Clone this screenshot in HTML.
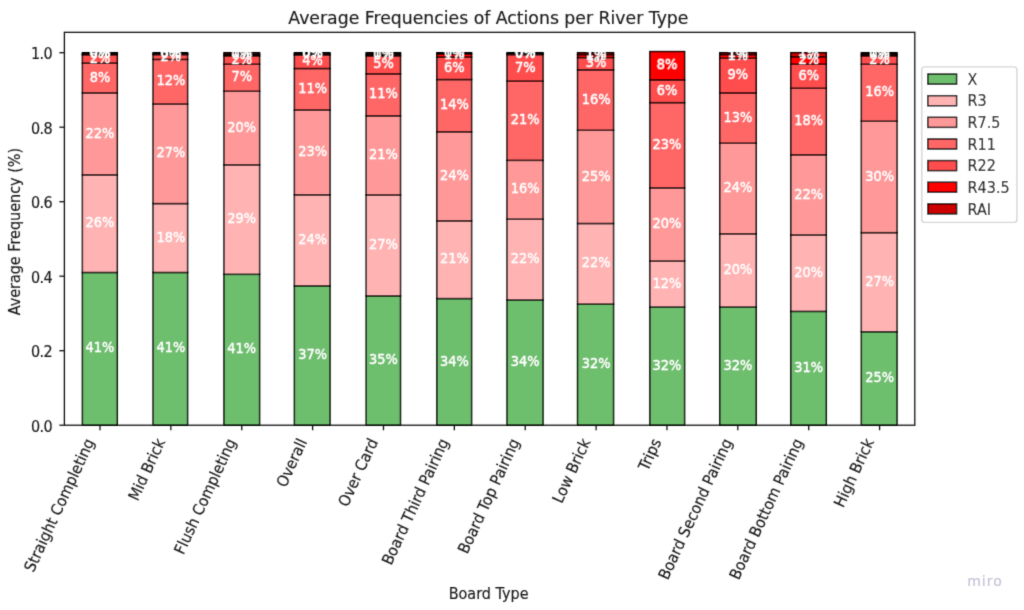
<!DOCTYPE html><html><head><meta charset="utf-8"><title>Average Frequencies of Actions per River Type</title>
<style>html,body{margin:0;padding:0;background:#fff;}svg{display:block;will-change:transform;}text{font-family:"DejaVu Sans","Liberation Sans",sans-serif;}</style></head><body>
<svg width="1024" height="610" viewBox="0 0 1024 610">
<rect width="1024" height="610" fill="#fff"/>
<defs><filter id="soft" filterUnits="userSpaceOnUse" x="0" y="0" width="1024" height="610"><feConvolveMatrix order="3" kernelMatrix="1 6 1 6 36 6 1 6 1" divisor="64" edgeMode="duplicate" preserveAlpha="false"/></filter></defs><g filter="url(#soft)">
<rect x="82.40" y="272.48" width="34.90" height="152.72" fill="#6dbe6d" stroke="#000" stroke-width="1.45"/>
<rect x="82.40" y="174.88" width="34.90" height="97.60" fill="#ffb3b3" stroke="#000" stroke-width="1.45"/>
<rect x="82.40" y="92.93" width="34.90" height="81.95" fill="#ff9999" stroke="#000" stroke-width="1.45"/>
<rect x="82.40" y="63.13" width="34.90" height="29.80" fill="#ff6666" stroke="#000" stroke-width="1.45"/>
<rect x="82.40" y="54.71" width="34.90" height="8.42" fill="#ff4d4d" stroke="#000" stroke-width="1.45"/>
<rect x="82.40" y="54.19" width="34.90" height="0.52" fill="#ff0000" stroke="#000" stroke-width="1.45"/>
<rect x="82.40" y="52.70" width="34.90" height="1.49" fill="#cc0000" stroke="#000" stroke-width="1.45"/>
<rect x="153.10" y="272.48" width="34.50" height="152.72" fill="#6dbe6d" stroke="#000" stroke-width="1.45"/>
<rect x="153.10" y="203.56" width="34.50" height="68.91" fill="#ffb3b3" stroke="#000" stroke-width="1.45"/>
<rect x="153.10" y="104.11" width="34.50" height="99.46" fill="#ff9999" stroke="#000" stroke-width="1.45"/>
<rect x="153.10" y="59.40" width="34.50" height="44.70" fill="#ff6666" stroke="#000" stroke-width="1.45"/>
<rect x="153.10" y="54.56" width="34.50" height="4.84" fill="#ff4d4d" stroke="#000" stroke-width="1.45"/>
<rect x="153.10" y="53.82" width="34.50" height="0.75" fill="#ff0000" stroke="#000" stroke-width="1.45"/>
<rect x="153.10" y="52.70" width="34.50" height="1.12" fill="#cc0000" stroke="#000" stroke-width="1.45"/>
<rect x="224.00" y="274.34" width="35.60" height="150.86" fill="#6dbe6d" stroke="#000" stroke-width="1.45"/>
<rect x="224.00" y="164.82" width="35.60" height="109.51" fill="#ffb3b3" stroke="#000" stroke-width="1.45"/>
<rect x="224.00" y="91.29" width="35.60" height="73.53" fill="#ff9999" stroke="#000" stroke-width="1.45"/>
<rect x="224.00" y="64.25" width="35.60" height="27.04" fill="#ff6666" stroke="#000" stroke-width="1.45"/>
<rect x="224.00" y="55.87" width="35.60" height="8.38" fill="#ff4d4d" stroke="#000" stroke-width="1.45"/>
<rect x="224.00" y="54.38" width="35.60" height="1.49" fill="#ff0000" stroke="#000" stroke-width="1.45"/>
<rect x="224.00" y="52.70" width="35.60" height="1.68" fill="#cc0000" stroke="#000" stroke-width="1.45"/>
<rect x="294.40" y="285.88" width="35.60" height="139.31" fill="#6dbe6d" stroke="#000" stroke-width="1.45"/>
<rect x="294.40" y="194.81" width="35.60" height="91.08" fill="#ffb3b3" stroke="#000" stroke-width="1.45"/>
<rect x="294.40" y="110.06" width="35.60" height="84.74" fill="#ff9999" stroke="#000" stroke-width="1.45"/>
<rect x="294.40" y="68.49" width="35.60" height="41.57" fill="#ff6666" stroke="#000" stroke-width="1.45"/>
<rect x="294.40" y="54.94" width="35.60" height="13.56" fill="#ff4d4d" stroke="#000" stroke-width="1.45"/>
<rect x="294.40" y="54.19" width="35.60" height="0.75" fill="#ff0000" stroke="#000" stroke-width="1.45"/>
<rect x="294.40" y="52.70" width="35.60" height="1.49" fill="#cc0000" stroke="#000" stroke-width="1.45"/>
<rect x="366.20" y="295.94" width="34.30" height="129.26" fill="#6dbe6d" stroke="#000" stroke-width="1.45"/>
<rect x="366.20" y="195.00" width="34.30" height="100.95" fill="#ffb3b3" stroke="#000" stroke-width="1.45"/>
<rect x="366.20" y="115.80" width="34.30" height="79.19" fill="#ff9999" stroke="#000" stroke-width="1.45"/>
<rect x="366.20" y="73.78" width="34.30" height="42.02" fill="#ff6666" stroke="#000" stroke-width="1.45"/>
<rect x="366.20" y="55.87" width="34.30" height="17.92" fill="#ff4d4d" stroke="#000" stroke-width="1.45"/>
<rect x="366.20" y="54.19" width="34.30" height="1.68" fill="#ff0000" stroke="#000" stroke-width="1.45"/>
<rect x="366.20" y="52.70" width="34.30" height="1.49" fill="#cc0000" stroke="#000" stroke-width="1.45"/>
<rect x="436.90" y="298.55" width="34.70" height="126.65" fill="#6dbe6d" stroke="#000" stroke-width="1.45"/>
<rect x="436.90" y="220.88" width="34.70" height="77.67" fill="#ffb3b3" stroke="#000" stroke-width="1.45"/>
<rect x="436.90" y="131.78" width="34.70" height="89.10" fill="#ff9999" stroke="#000" stroke-width="1.45"/>
<rect x="436.90" y="79.52" width="34.70" height="52.26" fill="#ff6666" stroke="#000" stroke-width="1.45"/>
<rect x="436.90" y="57.17" width="34.70" height="22.35" fill="#ff4d4d" stroke="#000" stroke-width="1.45"/>
<rect x="436.90" y="54.19" width="34.70" height="2.98" fill="#ff0000" stroke="#000" stroke-width="1.45"/>
<rect x="436.90" y="52.70" width="34.70" height="1.49" fill="#cc0000" stroke="#000" stroke-width="1.45"/>
<rect x="507.05" y="300.04" width="35.95" height="125.16" fill="#6dbe6d" stroke="#000" stroke-width="1.45"/>
<rect x="507.05" y="219.21" width="35.95" height="80.83" fill="#ffb3b3" stroke="#000" stroke-width="1.45"/>
<rect x="507.05" y="160.35" width="35.95" height="58.85" fill="#ff9999" stroke="#000" stroke-width="1.45"/>
<rect x="507.05" y="81.20" width="35.95" height="79.16" fill="#ff6666" stroke="#000" stroke-width="1.45"/>
<rect x="507.05" y="54.56" width="35.95" height="26.63" fill="#ff4d4d" stroke="#000" stroke-width="1.45"/>
<rect x="507.05" y="53.82" width="35.95" height="0.75" fill="#ff0000" stroke="#000" stroke-width="1.45"/>
<rect x="507.05" y="52.70" width="35.95" height="1.12" fill="#cc0000" stroke="#000" stroke-width="1.45"/>
<rect x="577.55" y="304.14" width="36.00" height="121.06" fill="#6dbe6d" stroke="#000" stroke-width="1.45"/>
<rect x="577.55" y="223.49" width="36.00" height="80.65" fill="#ffb3b3" stroke="#000" stroke-width="1.45"/>
<rect x="577.55" y="130.29" width="36.00" height="93.20" fill="#ff9999" stroke="#000" stroke-width="1.45"/>
<rect x="577.55" y="69.83" width="36.00" height="60.46" fill="#ff6666" stroke="#000" stroke-width="1.45"/>
<rect x="577.55" y="57.54" width="36.00" height="12.29" fill="#ff4d4d" stroke="#000" stroke-width="1.45"/>
<rect x="577.55" y="54.56" width="36.00" height="2.98" fill="#ff0000" stroke="#000" stroke-width="1.45"/>
<rect x="577.55" y="52.70" width="36.00" height="1.86" fill="#cc0000" stroke="#000" stroke-width="1.45"/>
<rect x="649.90" y="307.12" width="34.70" height="118.08" fill="#6dbe6d" stroke="#000" stroke-width="1.45"/>
<rect x="649.90" y="261.11" width="34.70" height="46.00" fill="#ffb3b3" stroke="#000" stroke-width="1.45"/>
<rect x="649.90" y="187.92" width="34.70" height="73.20" fill="#ff9999" stroke="#000" stroke-width="1.45"/>
<rect x="649.90" y="102.62" width="34.70" height="85.30" fill="#ff6666" stroke="#000" stroke-width="1.45"/>
<rect x="649.90" y="79.89" width="34.70" height="22.72" fill="#ff4d4d" stroke="#000" stroke-width="1.45"/>
<rect x="649.90" y="51.58" width="34.70" height="28.31" fill="#ff0000" stroke="#000" stroke-width="1.45"/>
<rect x="719.80" y="307.12" width="36.40" height="118.08" fill="#6dbe6d" stroke="#000" stroke-width="1.45"/>
<rect x="719.80" y="233.73" width="36.40" height="73.38" fill="#ffb3b3" stroke="#000" stroke-width="1.45"/>
<rect x="719.80" y="143.22" width="36.40" height="90.52" fill="#ff9999" stroke="#000" stroke-width="1.45"/>
<rect x="719.80" y="92.93" width="36.40" height="50.29" fill="#ff6666" stroke="#000" stroke-width="1.45"/>
<rect x="719.80" y="58.29" width="36.40" height="34.64" fill="#ff4d4d" stroke="#000" stroke-width="1.45"/>
<rect x="719.80" y="54.56" width="36.40" height="3.72" fill="#ff0000" stroke="#000" stroke-width="1.45"/>
<rect x="719.80" y="52.70" width="36.40" height="1.86" fill="#cc0000" stroke="#000" stroke-width="1.45"/>
<rect x="790.85" y="311.40" width="35.45" height="113.80" fill="#6dbe6d" stroke="#000" stroke-width="1.45"/>
<rect x="790.85" y="235.00" width="35.45" height="76.40" fill="#ffb3b3" stroke="#000" stroke-width="1.45"/>
<rect x="790.85" y="154.76" width="35.45" height="80.24" fill="#ff9999" stroke="#000" stroke-width="1.45"/>
<rect x="790.85" y="88.27" width="35.45" height="66.49" fill="#ff6666" stroke="#000" stroke-width="1.45"/>
<rect x="790.85" y="64.25" width="35.45" height="24.03" fill="#ff4d4d" stroke="#000" stroke-width="1.45"/>
<rect x="790.85" y="56.80" width="35.45" height="7.45" fill="#ff0000" stroke="#000" stroke-width="1.45"/>
<rect x="790.85" y="52.70" width="35.45" height="4.10" fill="#cc0000" stroke="#000" stroke-width="1.45"/>
<rect x="861.35" y="331.70" width="35.65" height="93.50" fill="#6dbe6d" stroke="#000" stroke-width="1.45"/>
<rect x="861.35" y="232.62" width="35.65" height="99.09" fill="#ffb3b3" stroke="#000" stroke-width="1.45"/>
<rect x="861.35" y="121.24" width="35.65" height="111.38" fill="#ff9999" stroke="#000" stroke-width="1.45"/>
<rect x="861.35" y="64.25" width="35.65" height="56.99" fill="#ff6666" stroke="#000" stroke-width="1.45"/>
<rect x="861.35" y="55.87" width="35.65" height="8.38" fill="#ff4d4d" stroke="#000" stroke-width="1.45"/>
<rect x="861.35" y="54.19" width="35.65" height="1.68" fill="#ff0000" stroke="#000" stroke-width="1.45"/>
<rect x="861.35" y="52.70" width="35.65" height="1.49" fill="#cc0000" stroke="#000" stroke-width="1.45"/>
<text transform="translate(100.00,352.46) scale(1,1.065)" font-size="12.96" fill="#fff" text-anchor="middle" stroke="#fff" stroke-width="0.35">41%</text>
<text transform="translate(100.00,227.30) scale(1,1.065)" font-size="12.96" fill="#fff" text-anchor="middle" stroke="#fff" stroke-width="0.35">26%</text>
<text transform="translate(100.00,137.53) scale(1,1.065)" font-size="12.96" fill="#fff" text-anchor="middle" stroke="#fff" stroke-width="0.35">22%</text>
<text transform="translate(100.00,81.66) scale(1,1.065)" font-size="12.96" fill="#fff" text-anchor="middle" stroke="#fff" stroke-width="0.35">8%</text>
<text transform="translate(100.00,62.55) scale(1,1.065)" font-size="12.96" fill="#fff" text-anchor="middle" stroke="#fff" stroke-width="0.35">2%</text>
<text transform="translate(100.00,58.08) scale(1,1.065)" font-size="12.96" fill="#fff" text-anchor="middle" stroke="#fff" stroke-width="0.35">0%</text>
<text transform="translate(100.00,57.07) scale(1,1.065)" font-size="12.96" fill="#fff" text-anchor="middle" stroke="#fff" stroke-width="0.35">0%</text>
<text transform="translate(170.87,352.46) scale(1,1.065)" font-size="12.96" fill="#fff" text-anchor="middle" stroke="#fff" stroke-width="0.35">41%</text>
<text transform="translate(170.87,241.65) scale(1,1.065)" font-size="12.96" fill="#fff" text-anchor="middle" stroke="#fff" stroke-width="0.35">18%</text>
<text transform="translate(170.87,157.46) scale(1,1.065)" font-size="12.96" fill="#fff" text-anchor="middle" stroke="#fff" stroke-width="0.35">27%</text>
<text transform="translate(170.87,85.38) scale(1,1.065)" font-size="12.96" fill="#fff" text-anchor="middle" stroke="#fff" stroke-width="0.35">12%</text>
<text transform="translate(170.87,60.61) scale(1,1.065)" font-size="12.96" fill="#fff" text-anchor="middle" stroke="#fff" stroke-width="0.35">2%</text>
<text transform="translate(170.87,57.82) scale(1,1.065)" font-size="12.96" fill="#fff" text-anchor="middle" stroke="#fff" stroke-width="0.35">0%</text>
<text transform="translate(170.87,56.89) scale(1,1.065)" font-size="12.96" fill="#fff" text-anchor="middle" stroke="#fff" stroke-width="0.35">0%</text>
<text transform="translate(241.74,353.40) scale(1,1.065)" font-size="12.96" fill="#fff" text-anchor="middle" stroke="#fff" stroke-width="0.35">41%</text>
<text transform="translate(241.74,223.21) scale(1,1.065)" font-size="12.96" fill="#fff" text-anchor="middle" stroke="#fff" stroke-width="0.35">29%</text>
<text transform="translate(241.74,131.68) scale(1,1.065)" font-size="12.96" fill="#fff" text-anchor="middle" stroke="#fff" stroke-width="0.35">20%</text>
<text transform="translate(241.74,81.40) scale(1,1.065)" font-size="12.96" fill="#fff" text-anchor="middle" stroke="#fff" stroke-width="0.35">7%</text>
<text transform="translate(241.74,63.68) scale(1,1.065)" font-size="12.96" fill="#fff" text-anchor="middle" stroke="#fff" stroke-width="0.35">2%</text>
<text transform="translate(241.74,58.75) scale(1,1.065)" font-size="12.96" fill="#fff" text-anchor="middle" stroke="#fff" stroke-width="0.35">0%</text>
<text transform="translate(241.74,57.17) scale(1,1.065)" font-size="12.96" fill="#fff" text-anchor="middle" stroke="#fff" stroke-width="0.35">1%</text>
<text transform="translate(312.61,359.17) scale(1,1.065)" font-size="12.96" fill="#fff" text-anchor="middle" stroke="#fff" stroke-width="0.35">37%</text>
<text transform="translate(312.61,243.97) scale(1,1.065)" font-size="12.96" fill="#fff" text-anchor="middle" stroke="#fff" stroke-width="0.35">24%</text>
<text transform="translate(312.61,156.06) scale(1,1.065)" font-size="12.96" fill="#fff" text-anchor="middle" stroke="#fff" stroke-width="0.35">23%</text>
<text transform="translate(312.61,92.91) scale(1,1.065)" font-size="12.96" fill="#fff" text-anchor="middle" stroke="#fff" stroke-width="0.35">11%</text>
<text transform="translate(312.61,65.34) scale(1,1.065)" font-size="12.96" fill="#fff" text-anchor="middle" stroke="#fff" stroke-width="0.35">4%</text>
<text transform="translate(312.61,58.19) scale(1,1.065)" font-size="12.96" fill="#fff" text-anchor="middle" stroke="#fff" stroke-width="0.35">0%</text>
<text transform="translate(312.61,57.07) scale(1,1.065)" font-size="12.96" fill="#fff" text-anchor="middle" stroke="#fff" stroke-width="0.35">0%</text>
<text transform="translate(383.48,364.20) scale(1,1.065)" font-size="12.96" fill="#fff" text-anchor="middle" stroke="#fff" stroke-width="0.35">35%</text>
<text transform="translate(383.48,249.10) scale(1,1.065)" font-size="12.96" fill="#fff" text-anchor="middle" stroke="#fff" stroke-width="0.35">27%</text>
<text transform="translate(383.48,159.03) scale(1,1.065)" font-size="12.96" fill="#fff" text-anchor="middle" stroke="#fff" stroke-width="0.35">21%</text>
<text transform="translate(383.48,98.42) scale(1,1.065)" font-size="12.96" fill="#fff" text-anchor="middle" stroke="#fff" stroke-width="0.35">11%</text>
<text transform="translate(383.48,68.45) scale(1,1.065)" font-size="12.96" fill="#fff" text-anchor="middle" stroke="#fff" stroke-width="0.35">5%</text>
<text transform="translate(383.48,58.66) scale(1,1.065)" font-size="12.96" fill="#fff" text-anchor="middle" stroke="#fff" stroke-width="0.35">0%</text>
<text transform="translate(383.48,57.07) scale(1,1.065)" font-size="12.96" fill="#fff" text-anchor="middle" stroke="#fff" stroke-width="0.35">1%</text>
<text transform="translate(454.35,365.50) scale(1,1.065)" font-size="12.96" fill="#fff" text-anchor="middle" stroke="#fff" stroke-width="0.35">34%</text>
<text transform="translate(454.35,263.34) scale(1,1.065)" font-size="12.96" fill="#fff" text-anchor="middle" stroke="#fff" stroke-width="0.35">21%</text>
<text transform="translate(454.35,179.96) scale(1,1.065)" font-size="12.96" fill="#fff" text-anchor="middle" stroke="#fff" stroke-width="0.35">24%</text>
<text transform="translate(454.35,109.28) scale(1,1.065)" font-size="12.96" fill="#fff" text-anchor="middle" stroke="#fff" stroke-width="0.35">14%</text>
<text transform="translate(454.35,71.97) scale(1,1.065)" font-size="12.96" fill="#fff" text-anchor="middle" stroke="#fff" stroke-width="0.35">6%</text>
<text transform="translate(454.35,59.31) scale(1,1.065)" font-size="12.96" fill="#fff" text-anchor="middle" stroke="#fff" stroke-width="0.35">1%</text>
<text transform="translate(454.35,57.07) scale(1,1.065)" font-size="12.96" fill="#fff" text-anchor="middle" stroke="#fff" stroke-width="0.35">0%</text>
<text transform="translate(525.22,366.25) scale(1,1.065)" font-size="12.96" fill="#fff" text-anchor="middle" stroke="#fff" stroke-width="0.35">34%</text>
<text transform="translate(525.22,263.25) scale(1,1.065)" font-size="12.96" fill="#fff" text-anchor="middle" stroke="#fff" stroke-width="0.35">22%</text>
<text transform="translate(525.22,193.41) scale(1,1.065)" font-size="12.96" fill="#fff" text-anchor="middle" stroke="#fff" stroke-width="0.35">16%</text>
<text transform="translate(525.22,124.40) scale(1,1.065)" font-size="12.96" fill="#fff" text-anchor="middle" stroke="#fff" stroke-width="0.35">21%</text>
<text transform="translate(525.22,71.51) scale(1,1.065)" font-size="12.96" fill="#fff" text-anchor="middle" stroke="#fff" stroke-width="0.35">7%</text>
<text transform="translate(525.22,57.82) scale(1,1.065)" font-size="12.96" fill="#fff" text-anchor="middle" stroke="#fff" stroke-width="0.35">0%</text>
<text transform="translate(525.22,56.89) scale(1,1.065)" font-size="12.96" fill="#fff" text-anchor="middle" stroke="#fff" stroke-width="0.35">0%</text>
<text transform="translate(596.09,368.30) scale(1,1.065)" font-size="12.96" fill="#fff" text-anchor="middle" stroke="#fff" stroke-width="0.35">32%</text>
<text transform="translate(596.09,267.44) scale(1,1.065)" font-size="12.96" fill="#fff" text-anchor="middle" stroke="#fff" stroke-width="0.35">22%</text>
<text transform="translate(596.09,180.52) scale(1,1.065)" font-size="12.96" fill="#fff" text-anchor="middle" stroke="#fff" stroke-width="0.35">25%</text>
<text transform="translate(596.09,103.69) scale(1,1.065)" font-size="12.96" fill="#fff" text-anchor="middle" stroke="#fff" stroke-width="0.35">16%</text>
<text transform="translate(596.09,67.32) scale(1,1.065)" font-size="12.96" fill="#fff" text-anchor="middle" stroke="#fff" stroke-width="0.35">3%</text>
<text transform="translate(596.09,59.68) scale(1,1.065)" font-size="12.96" fill="#fff" text-anchor="middle" stroke="#fff" stroke-width="0.35">1%</text>
<text transform="translate(596.09,57.26) scale(1,1.065)" font-size="12.96" fill="#fff" text-anchor="middle" stroke="#fff" stroke-width="0.35">1%</text>
<text transform="translate(666.96,369.79) scale(1,1.065)" font-size="12.96" fill="#fff" text-anchor="middle" stroke="#fff" stroke-width="0.35">32%</text>
<text transform="translate(666.96,287.74) scale(1,1.065)" font-size="12.96" fill="#fff" text-anchor="middle" stroke="#fff" stroke-width="0.35">12%</text>
<text transform="translate(666.96,228.14) scale(1,1.065)" font-size="12.96" fill="#fff" text-anchor="middle" stroke="#fff" stroke-width="0.35">20%</text>
<text transform="translate(666.96,148.89) scale(1,1.065)" font-size="12.96" fill="#fff" text-anchor="middle" stroke="#fff" stroke-width="0.35">23%</text>
<text transform="translate(666.96,94.88) scale(1,1.065)" font-size="12.96" fill="#fff" text-anchor="middle" stroke="#fff" stroke-width="0.35">6%</text>
<text transform="translate(666.96,69.36) scale(1,1.065)" font-size="12.96" fill="#fff" text-anchor="middle" stroke="#fff" stroke-width="0.35">8%</text>
<text transform="translate(737.83,369.79) scale(1,1.065)" font-size="12.96" fill="#fff" text-anchor="middle" stroke="#fff" stroke-width="0.35">32%</text>
<text transform="translate(737.83,274.05) scale(1,1.065)" font-size="12.96" fill="#fff" text-anchor="middle" stroke="#fff" stroke-width="0.35">20%</text>
<text transform="translate(737.83,192.10) scale(1,1.065)" font-size="12.96" fill="#fff" text-anchor="middle" stroke="#fff" stroke-width="0.35">24%</text>
<text transform="translate(737.83,121.70) scale(1,1.065)" font-size="12.96" fill="#fff" text-anchor="middle" stroke="#fff" stroke-width="0.35">13%</text>
<text transform="translate(737.83,79.24) scale(1,1.065)" font-size="12.96" fill="#fff" text-anchor="middle" stroke="#fff" stroke-width="0.35">9%</text>
<text transform="translate(737.83,60.05) scale(1,1.065)" font-size="12.96" fill="#fff" text-anchor="middle" stroke="#fff" stroke-width="0.35">1%</text>
<text transform="translate(737.83,57.26) scale(1,1.065)" font-size="12.96" fill="#fff" text-anchor="middle" stroke="#fff" stroke-width="0.35">1%</text>
<text transform="translate(808.70,371.93) scale(1,1.065)" font-size="12.96" fill="#fff" text-anchor="middle" stroke="#fff" stroke-width="0.35">31%</text>
<text transform="translate(808.70,276.83) scale(1,1.065)" font-size="12.96" fill="#fff" text-anchor="middle" stroke="#fff" stroke-width="0.35">20%</text>
<text transform="translate(808.70,198.51) scale(1,1.065)" font-size="12.96" fill="#fff" text-anchor="middle" stroke="#fff" stroke-width="0.35">22%</text>
<text transform="translate(808.70,125.15) scale(1,1.065)" font-size="12.96" fill="#fff" text-anchor="middle" stroke="#fff" stroke-width="0.35">18%</text>
<text transform="translate(808.70,79.89) scale(1,1.065)" font-size="12.96" fill="#fff" text-anchor="middle" stroke="#fff" stroke-width="0.35">6%</text>
<text transform="translate(808.70,64.15) scale(1,1.065)" font-size="12.96" fill="#fff" text-anchor="middle" stroke="#fff" stroke-width="0.35">2%</text>
<text transform="translate(808.70,58.38) scale(1,1.065)" font-size="12.96" fill="#fff" text-anchor="middle" stroke="#fff" stroke-width="0.35">1%</text>
<text transform="translate(879.57,382.08) scale(1,1.065)" font-size="12.96" fill="#fff" text-anchor="middle" stroke="#fff" stroke-width="0.35">25%</text>
<text transform="translate(879.57,285.79) scale(1,1.065)" font-size="12.96" fill="#fff" text-anchor="middle" stroke="#fff" stroke-width="0.35">27%</text>
<text transform="translate(879.57,180.56) scale(1,1.065)" font-size="12.96" fill="#fff" text-anchor="middle" stroke="#fff" stroke-width="0.35">30%</text>
<text transform="translate(879.57,96.37) scale(1,1.065)" font-size="12.96" fill="#fff" text-anchor="middle" stroke="#fff" stroke-width="0.35">16%</text>
<text transform="translate(879.57,63.68) scale(1,1.065)" font-size="12.96" fill="#fff" text-anchor="middle" stroke="#fff" stroke-width="0.35">2%</text>
<text transform="translate(879.57,58.66) scale(1,1.065)" font-size="12.96" fill="#fff" text-anchor="middle" stroke="#fff" stroke-width="0.35">0%</text>
<text transform="translate(879.57,57.07) scale(1,1.065)" font-size="12.96" fill="#fff" text-anchor="middle" stroke="#fff" stroke-width="0.35">1%</text>
<rect x="64.4" y="32.3" width="850.40" height="392.90" fill="none" stroke="#111" stroke-width="1.3"/>
<line x1="59.36" y1="425.20" x2="64.4" y2="425.20" stroke="#111" stroke-width="1.3"/>
<text transform="translate(52.12,431.76) scale(1,1.09)" font-size="14.4" fill="#1a1a1a" text-anchor="end" letter-spacing="-0.6" stroke="#1a1a1a" stroke-width="0.15">0.0</text>
<line x1="59.36" y1="350.70" x2="64.4" y2="350.70" stroke="#111" stroke-width="1.3"/>
<text transform="translate(52.12,357.26) scale(1,1.09)" font-size="14.4" fill="#1a1a1a" text-anchor="end" letter-spacing="-0.6" stroke="#1a1a1a" stroke-width="0.15">0.2</text>
<line x1="59.36" y1="276.20" x2="64.4" y2="276.20" stroke="#111" stroke-width="1.3"/>
<text transform="translate(52.12,282.76) scale(1,1.09)" font-size="14.4" fill="#1a1a1a" text-anchor="end" letter-spacing="-0.6" stroke="#1a1a1a" stroke-width="0.15">0.4</text>
<line x1="59.36" y1="201.70" x2="64.4" y2="201.70" stroke="#111" stroke-width="1.3"/>
<text transform="translate(52.12,208.26) scale(1,1.09)" font-size="14.4" fill="#1a1a1a" text-anchor="end" letter-spacing="-0.6" stroke="#1a1a1a" stroke-width="0.15">0.6</text>
<line x1="59.36" y1="127.20" x2="64.4" y2="127.20" stroke="#111" stroke-width="1.3"/>
<text transform="translate(52.12,133.76) scale(1,1.09)" font-size="14.4" fill="#1a1a1a" text-anchor="end" letter-spacing="-0.6" stroke="#1a1a1a" stroke-width="0.15">0.8</text>
<line x1="59.36" y1="52.70" x2="64.4" y2="52.70" stroke="#111" stroke-width="1.3"/>
<text transform="translate(52.12,59.26) scale(1,1.09)" font-size="14.4" fill="#1a1a1a" text-anchor="end" letter-spacing="-0.6" stroke="#1a1a1a" stroke-width="0.15">1.0</text>
<line x1="100.00" y1="425.2" x2="100.00" y2="430.24" stroke="#111" stroke-width="1.3"/>
<text transform="translate(33.58,572.97) rotate(-65) scale(1,1.09)" font-size="14.4" fill="#1a1a1a" stroke="#1a1a1a" stroke-width="0.15">Straight Completing</text>
<line x1="170.87" y1="425.2" x2="170.87" y2="430.24" stroke="#111" stroke-width="1.3"/>
<text transform="translate(137.68,501.70) rotate(-65) scale(1,1.09)" font-size="14.4" fill="#1a1a1a" stroke="#1a1a1a" stroke-width="0.15">Mid Brick</text>
<line x1="241.74" y1="425.2" x2="241.74" y2="430.24" stroke="#111" stroke-width="1.3"/>
<text transform="translate(183.52,555.38) rotate(-65) scale(1,1.09)" font-size="14.4" fill="#1a1a1a" stroke="#1a1a1a" stroke-width="0.15">Flush Completing</text>
<line x1="312.61" y1="425.2" x2="312.61" y2="430.24" stroke="#111" stroke-width="1.3"/>
<text transform="translate(285.65,488.35) rotate(-65) scale(1,1.09)" font-size="14.4" fill="#1a1a1a" stroke="#1a1a1a" stroke-width="0.15">Overall</text>
<line x1="383.48" y1="425.2" x2="383.48" y2="430.24" stroke="#111" stroke-width="1.3"/>
<text transform="translate(347.46,507.77) rotate(-65) scale(1,1.09)" font-size="14.4" fill="#1a1a1a" stroke="#1a1a1a" stroke-width="0.15">Over Card</text>
<line x1="454.35" y1="425.2" x2="454.35" y2="430.24" stroke="#111" stroke-width="1.3"/>
<text transform="translate(391.13,566.10) rotate(-65) scale(1,1.09)" font-size="14.4" fill="#1a1a1a" stroke="#1a1a1a" stroke-width="0.15">Board Third Pairing</text>
<line x1="525.22" y1="425.2" x2="525.22" y2="430.24" stroke="#111" stroke-width="1.3"/>
<text transform="translate(467.25,554.84) rotate(-65) scale(1,1.09)" font-size="14.4" fill="#1a1a1a" stroke="#1a1a1a" stroke-width="0.15">Board Top Pairing</text>
<line x1="596.09" y1="425.2" x2="596.09" y2="430.24" stroke="#111" stroke-width="1.3"/>
<text transform="translate(561.72,504.23) rotate(-65) scale(1,1.09)" font-size="14.4" fill="#1a1a1a" stroke="#1a1a1a" stroke-width="0.15">Low Brick</text>
<line x1="666.96" y1="425.2" x2="666.96" y2="430.24" stroke="#111" stroke-width="1.3"/>
<text transform="translate(647.70,471.83) rotate(-65) scale(1,1.09)" font-size="14.4" fill="#1a1a1a" stroke="#1a1a1a" stroke-width="0.15">Trips</text>
<line x1="737.83" y1="425.2" x2="737.83" y2="430.24" stroke="#111" stroke-width="1.3"/>
<text transform="translate(667.73,580.84) rotate(-65) scale(1,1.09)" font-size="14.4" fill="#1a1a1a" stroke="#1a1a1a" stroke-width="0.15">Board Second Pairing</text>
<line x1="808.70" y1="425.2" x2="808.70" y2="430.24" stroke="#111" stroke-width="1.3"/>
<text transform="translate(738.68,580.68) rotate(-65) scale(1,1.09)" font-size="14.4" fill="#1a1a1a" stroke="#1a1a1a" stroke-width="0.15">Board Bottom Pairing</text>
<line x1="879.57" y1="425.2" x2="879.57" y2="430.24" stroke="#111" stroke-width="1.3"/>
<text transform="translate(843.20,508.53) rotate(-65) scale(1,1.09)" font-size="14.4" fill="#1a1a1a" stroke="#1a1a1a" stroke-width="0.15">High Brick</text>
<text transform="translate(488.40,24.40) scale(1,1.03)" font-size="17.28" fill="#1a1a1a" text-anchor="middle" stroke="#1a1a1a" stroke-width="0.15">Average Frequencies of Actions per River Type</text>
<text transform="translate(488.60,598.70) scale(1,1.09)" font-size="14.4" fill="#1a1a1a" text-anchor="middle" stroke="#1a1a1a" stroke-width="0.15">Board Type</text>
<text transform="translate(20.10,231.65) rotate(-90) scale(1,1.09)" font-size="14.4" fill="#1a1a1a" text-anchor="middle" stroke="#1a1a1a" stroke-width="0.15">Average Frequency (%)</text>
<rect x="921.8" y="66.9" width="95.10" height="155.50" rx="2.9" fill="#fff" fill-opacity="0.8" stroke="#d6d6d6" stroke-width="1.44"/>
<rect x="927.8" y="74.06" width="28.8" height="10.08" fill="#6dbe6d" stroke="#000" stroke-width="1.45"/>
<text transform="translate(967.60,84.80) scale(1,1.09)" font-size="14.4" fill="#1a1a1a" stroke="#1a1a1a" stroke-width="0.15">X</text>
<rect x="927.8" y="95.68" width="28.8" height="10.08" fill="#ffb3b3" stroke="#000" stroke-width="1.45"/>
<text transform="translate(967.60,106.42) scale(1,1.09)" font-size="14.4" fill="#1a1a1a" stroke="#1a1a1a" stroke-width="0.15">R3</text>
<rect x="927.8" y="117.31" width="28.8" height="10.08" fill="#ff9999" stroke="#000" stroke-width="1.45"/>
<text transform="translate(967.60,128.05) scale(1,1.09)" font-size="14.4" fill="#1a1a1a" stroke="#1a1a1a" stroke-width="0.15">R7.5</text>
<rect x="927.8" y="138.94" width="28.8" height="10.08" fill="#ff6666" stroke="#000" stroke-width="1.45"/>
<text transform="translate(967.60,149.67) scale(1,1.09)" font-size="14.4" fill="#1a1a1a" stroke="#1a1a1a" stroke-width="0.15">R11</text>
<rect x="927.8" y="160.56" width="28.8" height="10.08" fill="#ff4d4d" stroke="#000" stroke-width="1.45"/>
<text transform="translate(967.60,171.30) scale(1,1.09)" font-size="14.4" fill="#1a1a1a" stroke="#1a1a1a" stroke-width="0.15">R22</text>
<rect x="927.8" y="182.19" width="28.8" height="10.08" fill="#ff0000" stroke="#000" stroke-width="1.45"/>
<text transform="translate(967.60,192.92) scale(1,1.09)" font-size="14.4" fill="#1a1a1a" stroke="#1a1a1a" stroke-width="0.15">R43.5</text>
<rect x="927.8" y="203.81" width="28.8" height="10.08" fill="#cc0000" stroke="#000" stroke-width="1.45"/>
<text transform="translate(967.60,214.55) scale(1,1.09)" font-size="14.4" fill="#1a1a1a" stroke="#1a1a1a" stroke-width="0.15">RAI</text>
<text transform="translate(967.20,586.30) scale(1,1.05)" font-size="14" fill="#c4c4d6" letter-spacing="1.0" stroke="#c4c4d6" stroke-width="0.2">miro</text>
</g></svg></body></html>
